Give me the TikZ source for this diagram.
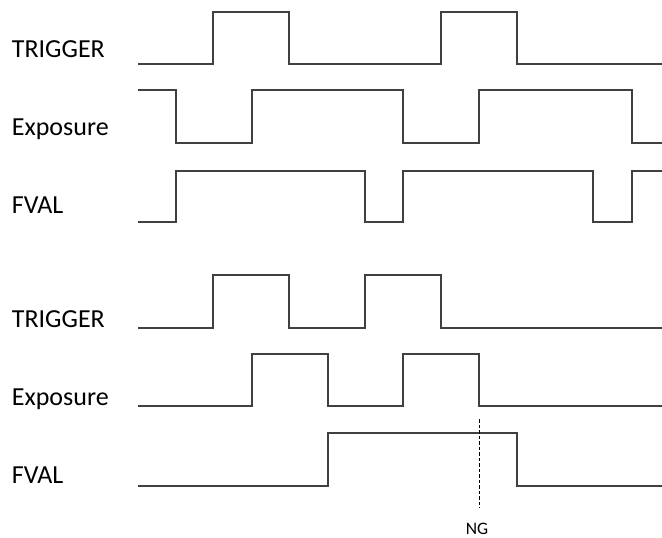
\documentclass[tikz,border=0pt]{standalone}
\usepackage{fontspec}
\setmainfont{Carlito}
\usetikzlibrary{positioning}

\begin{document}
\begin{tikzpicture}[x=1pt,y=-1pt,signame/.style={anchor=base west,inner sep=0pt,font=\fontsize{26}{31}\selectfont},wave/.style={draw=black!75,line width=1.3pt,line join=miter},ngline/.style={draw=black,line width=0.9pt,dash pattern=on 3.5pt off 2pt},nglabel/.style={anchor=base,inner sep=0pt,font=\fontsize{17.5}{20}\selectfont}]
	\useasboundingbox (0,0) rectangle (662,538);
	
	\node[signame] (trig1) at (11.7,57.3) {TRIGGER};
	\node[signame] (exp1) at (11.7,135) {Exposure};
	\node[signame] (fval1) at (11.7,213.3) {FVAL};
	
	\draw[wave] (138,64) -- (213,64) -- (213,12) -- (289,12) -- (289,64) -- (441,64) -- (441,12) -- (517,12) -- (517,64) -- (662,64);
	\draw[wave] (138,90) -- (176,90) -- (176,143) -- (252,143) -- (252,90) -- (403,90) -- (403,143) -- (479,143) -- (479,90) -- (632,90) -- (632,143) -- (662,143);
	\draw[wave] (138,222) -- (176,222) -- (176,171) -- (365,171) -- (365,222) -- (403,222) -- (403,171) -- (593,171) -- (593,222) -- (632,222) -- (632,171) -- (662,171);
	
	\node[signame] (trig2) at (11.7,327.3) {TRIGGER};
	\node[signame] (exp2) at (11.7,405) {Exposure};
	\node[signame] (fval2) at (11.7,483.3) {FVAL};
	
	\draw[wave] (138,328) -- (213,328) -- (213,275) -- (289,275) -- (289,328) -- (365,328) -- (365,275) -- (441,275) -- (441,328) -- (662,328);
	\draw[wave] (138,406) -- (252,406) -- (252,354) -- (328,354) -- (328,406) -- (403,406) -- (403,354) -- (479,354) -- (479,406) -- (662,406);
	\draw[wave] (138,486) -- (328,486) -- (328,433) -- (517,433) -- (517,486) -- (662,486);
	
	\coordinate (ngtop) at (479,419);
	\coordinate (ngbot) at (479,508);
	\draw[ngline] (ngtop) -- (ngbot);
	\node[nglabel] (ng) at (477,534.5) {NG};
\end{tikzpicture}
\end{document}
